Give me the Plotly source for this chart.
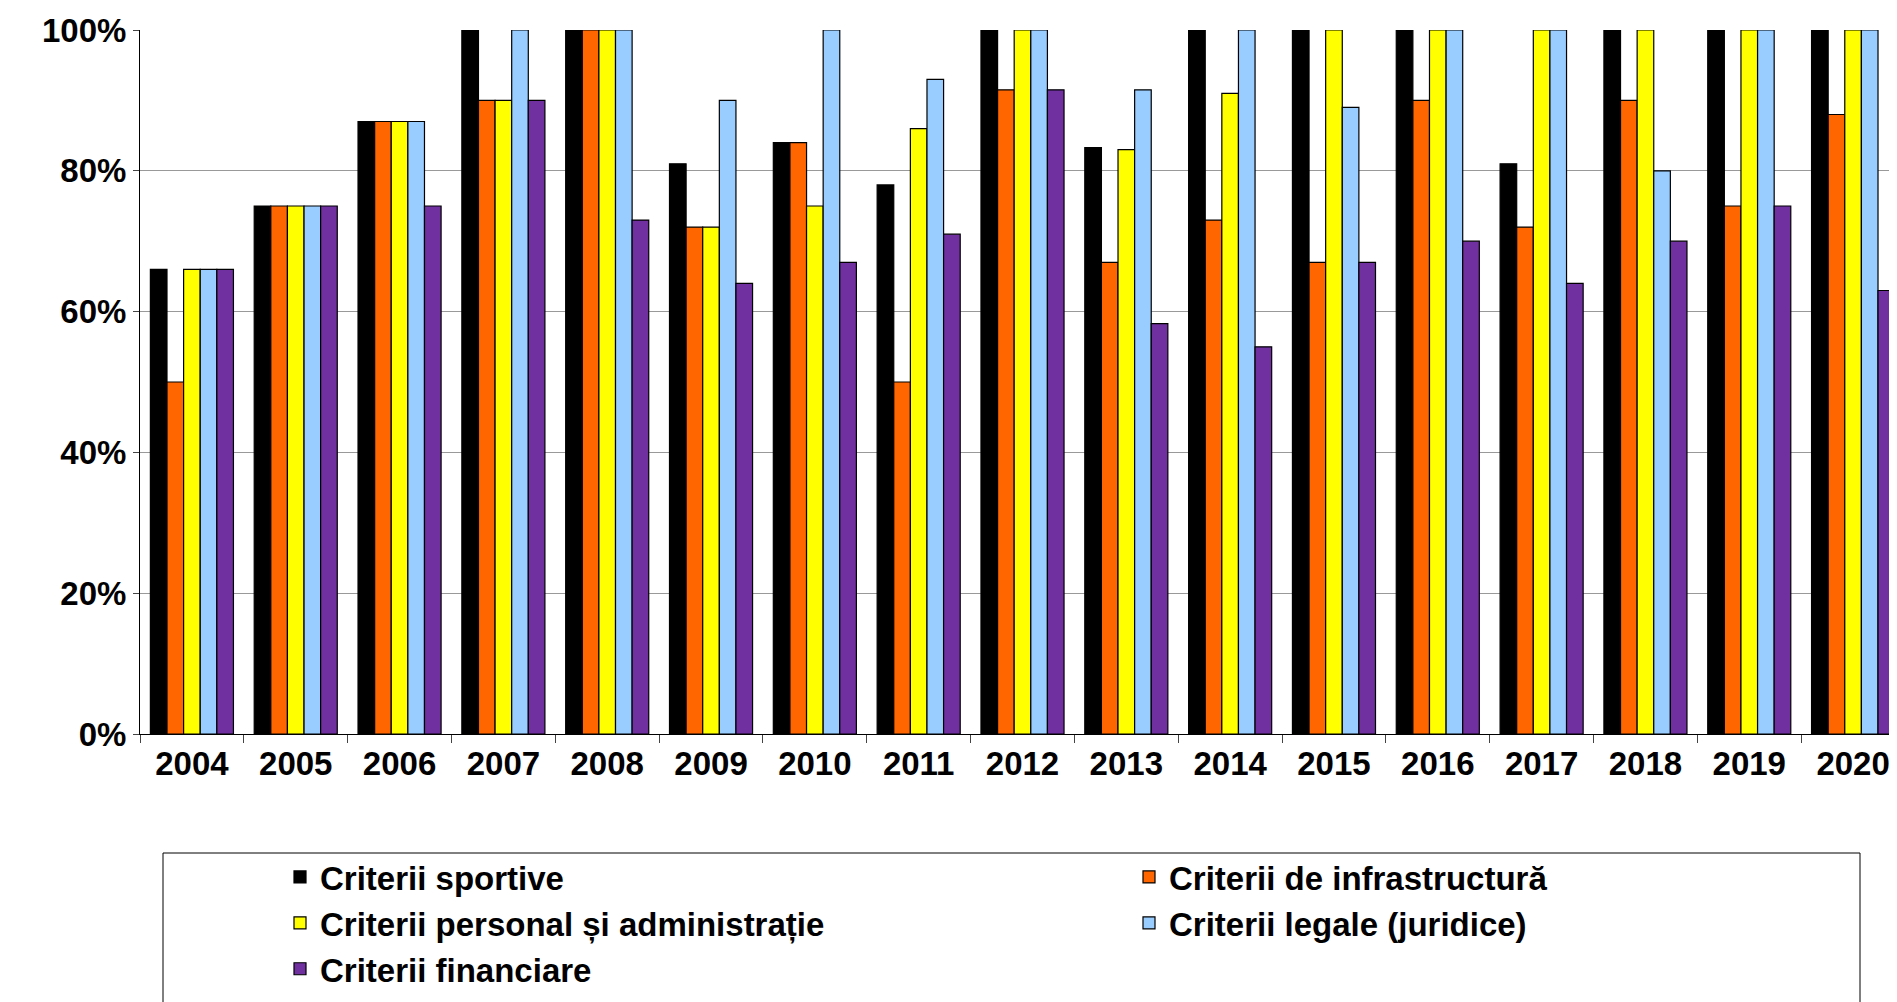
import plotly.graph_objects as go

years = [str(y) for y in range(2004, 2021)]
sportive = [66, 75, 87, 100, 100, 81, 84, 78, 100, 83.3, 100, 100, 100, 81, 100, 100, 100]
infrastructura = [50, 75, 87, 90, 100, 72, 84, 50, 91.5, 67, 73, 67, 90, 72, 90, 75, 88]
personal = [66, 75, 87, 90, 100, 72, 75, 86, 100, 83, 91, 100, 100, 100, 100, 100, 100]
legale = [66, 75, 87, 100, 100, 90, 100, 93, 100, 91.5, 100, 89, 100, 100, 80, 100, 100]
financiare = [66, 75, 75, 90, 73, 64, 67, 71, 91.5, 58.3, 55, 67, 70, 64, 70, 75, 63]

series = [
    ("Criterii sportive", sportive, "#000000"),
    ("Criterii de infrastructură", infrastructura, "#FF6600"),
    ("Criterii personal și administrație", personal, "#FFFF00"),
    ("Criterii legale (juridice)", legale, "#99CCFF"),
    ("Criterii financiare", financiare, "#7030A0"),
]

fig = go.Figure()
for name, vals, col in series:
    fig.add_trace(go.Bar(x=years, y=[v / 100 for v in vals], name=name,
                         marker=dict(color=col, line=dict(color="black", width=1.2))))

L, T, B, W, H = 132, 22, 276, 1897, 1002
pw, ph = W - L, H - T - B
tf = dict(family="Liberation Sans, Arial", size=33, color="black", weight="bold")
fig.update_layout(
    width=W, height=H, plot_bgcolor="white", paper_bgcolor="white",
    margin=dict(l=L, r=0, t=T, b=B, autoexpand=False),
    barmode="group", bargap=0.2, bargroupgap=0,
    font=tf,
    yaxis=dict(range=[0, 1], tickformat=".0%", dtick=0.2, showgrid=True, gridcolor="#999999",
               gridwidth=1, showline=True, linecolor="black", ticks="outside", ticklen=6,
               tickfont=tf),
    xaxis=dict(showline=True, linecolor="black", ticks="outside", tickson="boundaries", ticklen=8,
               tickfont=tf),
    legend=dict(orientation="h", x=(272 - L) / pw, xanchor="left", y=-(841 - (H - B)) / ph, yanchor="top",
                entrywidth=804, entrywidthmode="pixels", traceorder="normal",
                font=dict(family="Liberation Sans, Arial", size=33, color="black", weight="bold"),
                bgcolor="rgba(0,0,0,0)", itemwidth=30, tracegroupgap=0),
    shapes=[dict(type="rect", xref="paper", yref="paper",
                 x0=(155 - L) / pw, x1=(1852 - L) / pw,
                 y0=-(1001 - (H - B)) / ph, y1=-(845 - (H - B)) / ph,
                 line=dict(color="black", width=1))],
)
fig.write_html("out.html")
